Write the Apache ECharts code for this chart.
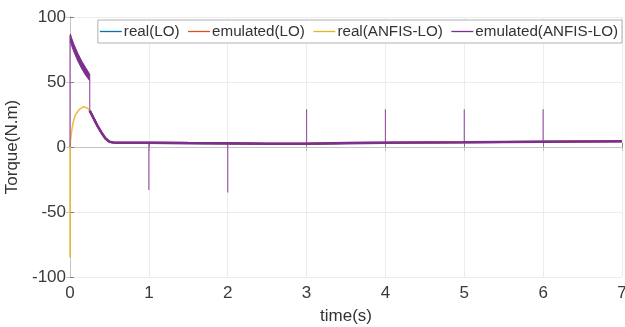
<!DOCTYPE html>
<html>
<head>
<meta charset="utf-8">
<script src="https://cdn.jsdelivr.net/npm/echarts@6/dist/echarts.min.js"></script>
<style>
  html, body { margin: 0; padding: 0; background: #fff; }
  #chart { width: 625px; height: 327px; }
</style>
</head>
<body>
<div id="chart"></div>
<script>
// Torque response of the LO and ANFIS-LO emulators, 0–7 s

const seriesNames = ['real(LO)', 'emulated(LO)', 'real(ANFIS-LO)', 'emulated(ANFIS-LO)'];
const xTicks = [0, 1, 2, 3, 4, 5, 6, 7];
const yTicks = [-100, -50, 0, 50, 100];

// Start-up ripple band (high-frequency torque ripple) of the emulated ANFIS-LO torque
const bandT  = [0.005, 0.02, 0.05, 0.10, 0.15, 0.20, 0.25];
const bandHi = [87, 84, 79, 72, 66, 61, 56];
const bandLo = [81, 78, 73, 66, 60, 55, 51];

// Settling and steady-state torque after the switching instant at 0.25 s
const settleT = [0.25, 0.30, 0.35, 0.40, 0.45, 0.50, 0.55, 0.60, 1.0, 1.5, 2.0, 2.5, 3.0, 3.5, 4.0, 5.0, 6.0, 7.0];
const settleV = [28, 22, 16, 11, 6.5, 4, 3.5, 3.3, 3.3, 3.0, 2.8, 2.5, 2.5, 3.0, 3.3, 3.6, 4.0, 4.4];

// Start-up of the real ANFIS-LO torque
const realAnfisT = [0, 0, 0.01, 0.02, 0.04, 0.07, 0.12, 0.17, 0.22, 0.25];
const realAnfisV = [-85, 0, 7, 12, 19, 25, 29, 31, 30, 28];

// Sharp transients (vertical jumps) of the emulated ANFIS-LO torque
const jumpT    = [0, 0.25, 1, 2, 3, 4, 5, 6];
const jumpFrom = [0, 51, 3.3, 2.8, 2.5, 3.3, 3.6, 4.0];
const jumpTo   = [86, 28, -33, -35, 29, 29, 29, 29];

const COLORS = ['#0072BD', '#D95319', '#EDB120', '#7E2F8E'];
const FONT = 'Liberation Sans, Arial, Helvetica, sans-serif';

const pairs = (ts, vs) => ts.map((t, i) => [t, vs[i]]);

const settleData = pairs(settleT, settleV);
const jumpData = [];
jumpT.forEach((t, i) => {
  jumpData.push([t, jumpFrom[i]], [t, jumpTo[i]], [t, '-']);
});

const chart = echarts.init(document.getElementById('chart'), null, { renderer: 'canvas' });

const axisLabelStyle = { color: '#3a3a3a', fontSize: 17, fontFamily: FONT };

chart.setOption({
  animation: false,
  backgroundColor: '#fff',
  grid: { left: 70, right: 3, top: 17, bottom: 50, containLabel: false, outerBoundsMode: 'none' },
  legend: {
    data: seriesNames,
    right: 3,
    top: 20,
    icon: 'rect',
    itemWidth: 22,
    itemHeight: 1.3,
    itemGap: 8.5,
    padding: [4, 4, 4, 2],
    borderColor: '#b0b0b0',
    borderWidth: 1,
    backgroundColor: '#fff',
    textStyle: { color: '#333', fontSize: 15.2, fontFamily: FONT, padding: [0, 0, 0, -3] },
    selectedMode: false
  },
  xAxis: [{
    type: 'value', min: 0, max: 7, interval: 1,
    name: 'time(s)', nameLocation: 'middle', nameGap: 31,
    nameTextStyle: { color: '#333', fontSize: 17, fontFamily: FONT },
    axisLine: { show: true, lineStyle: { color: '#808080', width: 1 } },
    axisTick: { show: true, inside: true, length: 4, lineStyle: { color: '#808080' } },
    axisLabel: Object.assign({ margin: 8 }, axisLabelStyle),
    splitLine: { show: true, lineStyle: { color: '#ececec', width: 1 } }
  }, {
    type: 'value', min: 0, max: 7, interval: 1, position: 'top',
    axisLine: { show: true, lineStyle: { color: '#c4c4c4', width: 1 } },
    axisTick: { show: true, inside: true, length: 4, lineStyle: { color: '#c4c4c4' } },
    axisLabel: { show: false },
    splitLine: { show: false }
  }],
  yAxis: [{
    type: 'value', min: -100, max: 100, interval: 50,
    name: 'Torque(N.m)', nameLocation: 'middle', nameGap: 36,
    nameTextStyle: { color: '#333', fontSize: 17, fontFamily: FONT },
    axisLine: { show: true, lineStyle: { color: '#808080', width: 1 } },
    axisTick: { show: true, inside: true, length: 4, lineStyle: { color: '#808080' } },
    axisLabel: Object.assign({ margin: 4 }, axisLabelStyle),
    splitLine: { show: true, lineStyle: { color: '#ececec', width: 1 } }
  }, {
    type: 'value', min: -100, max: 100, interval: 50, position: 'right',
    axisLine: { show: true, lineStyle: { color: '#c4c4c4', width: 1 } },
    axisTick: { show: true, inside: true, length: 4, lineStyle: { color: '#c4c4c4' } },
    axisLabel: { show: false },
    splitLine: { show: false }
  }],
  series: [
    {
      name: seriesNames[0], type: 'line', symbol: 'none', color: COLORS[0],
      lineStyle: { width: 2, color: COLORS[0] },
      data: settleData, z: 1
    },
    {
      name: seriesNames[1], type: 'line', symbol: 'none', color: COLORS[1],
      lineStyle: { width: 2, color: COLORS[1] },
      data: settleData, z: 2
    },
    {
      name: seriesNames[2], type: 'line', symbol: 'none', color: COLORS[2],
      lineStyle: { width: 1.6, color: COLORS[2], opacity: 0.85 },
      data: pairs(realAnfisT, realAnfisV).concat(settleData), z: 3
    },
    {
      name: seriesNames[3], type: 'line', symbol: 'none', color: COLORS[3],
      lineStyle: { width: 2.6, color: COLORS[3] },
      data: settleData, z: 5
    },
    {
      name: seriesNames[3], type: 'line', symbol: 'none', color: COLORS[3],
      lineStyle: { width: 1.2, color: '#9b59a8' },
      connectNulls: false,
      data: jumpData, z: 4
    },
    {
      name: seriesNames[3], type: 'custom', color: COLORS[3],
      coordinateSystem: 'cartesian2d',
      encode: { x: 0, y: 1 },
      data: [[bandT[0], bandHi[0]]],
      z: 5,
      renderItem: function (params, api) {
        const pts = [];
        for (let i = 0; i < bandT.length; i++) pts.push(api.coord([bandT[i], bandHi[i]]));
        for (let i = bandT.length - 1; i >= 0; i--) pts.push(api.coord([bandT[i], bandLo[i]]));
        return {
          type: 'polygon',
          shape: { points: pts },
          style: { fill: COLORS[3], stroke: COLORS[3], lineWidth: 1 }
        };
      }
    }
  ]
});
</script>
</body>
</html>
